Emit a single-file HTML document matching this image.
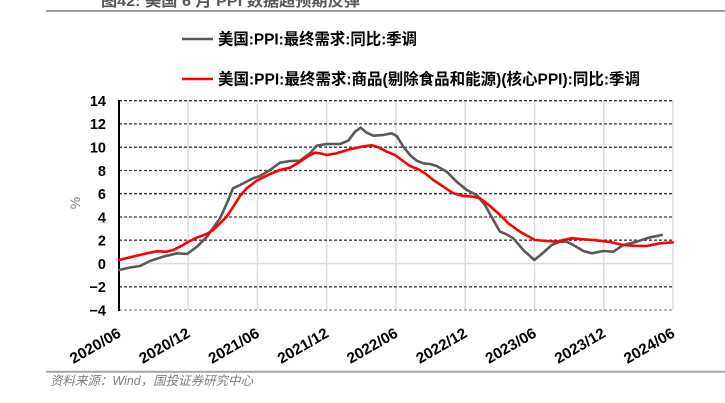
<!DOCTYPE html>
<html><head><meta charset="utf-8"><style>
html,body{margin:0;padding:0;background:#fff;width:725px;height:403px;overflow:hidden}
svg{display:block}
text{font-family:"Liberation Sans","Noto Sans CJK SC",sans-serif}
</style></head><body>
<svg width="725" height="403" viewBox="0 0 725 403" xmlns="http://www.w3.org/2000/svg">
<!-- title (cut off at top) -->
<text x="101" y="6" font-size="15" font-weight="bold" fill="#595959" textLength="259" lengthAdjust="spacingAndGlyphs">图42: 美国 6 月 PPI 数据超预期反弹</text>
<line x1="46" y1="11" x2="725" y2="11" stroke="#a0a0a0" stroke-width="2"/>

<!-- legend -->
<line x1="182" y1="39" x2="213" y2="39" stroke="#595959" stroke-width="2.5"/>
<text x="218" y="44.5" font-size="16" font-weight="bold" fill="#000" textLength="199" lengthAdjust="spacingAndGlyphs">美国:PPI:最终需求:同比:季调</text>
<line x1="182" y1="79" x2="213" y2="79" stroke="#ff0000" stroke-width="2.5"/>
<text x="218" y="84.5" font-size="16" font-weight="bold" fill="#000" textLength="422" lengthAdjust="spacingAndGlyphs">美国:PPI:最终需求:商品(剔除食品和能源)(核心PPI):同比:季调</text>

<!-- vertical gridlines -->
<g stroke="#dcdcdc" stroke-width="1.5">
<line x1="188.2" y1="100" x2="188.2" y2="310"/>
<line x1="257.5" y1="100" x2="257.5" y2="310"/>
<line x1="326.7" y1="100" x2="326.7" y2="310"/>
<line x1="396" y1="100" x2="396" y2="310"/>
<line x1="465.2" y1="100" x2="465.2" y2="310"/>
<line x1="534.5" y1="100" x2="534.5" y2="310"/>
<line x1="603.7" y1="100" x2="603.7" y2="310"/>
<line x1="673" y1="100" x2="673" y2="310"/>
</g>
<!-- horizontal gridlines -->
<g stroke="#3a3a3a" stroke-width="1.3" stroke-dasharray="3 2">
<line x1="119" y1="100.7" x2="673" y2="100.7"/>
<line x1="119" y1="123.9" x2="673" y2="123.9"/>
<line x1="119" y1="147.2" x2="673" y2="147.2"/>
<line x1="119" y1="170.5" x2="673" y2="170.5"/>
<line x1="119" y1="193.7" x2="673" y2="193.7"/>
<line x1="119" y1="217" x2="673" y2="217"/>
<line x1="119" y1="240.2" x2="673" y2="240.2"/>
<line x1="119" y1="286.8" x2="673" y2="286.8"/>
</g>
<line x1="119" y1="310" x2="673" y2="310" stroke="#8c8c8c" stroke-width="1.3" stroke-dasharray="3 2"/>
<line x1="119" y1="263.5" x2="673" y2="263.5" stroke="#dcdcdc" stroke-width="1.5"/>

<!-- y axis -->
<line x1="119" y1="100" x2="119" y2="311" stroke="#000" stroke-width="2"/>
<g font-size="14.5" font-weight="bold" fill="#000" text-anchor="end">
<text x="106" y="106">14</text>
<text x="106" y="129.2">12</text>
<text x="106" y="152.5">10</text>
<text x="106" y="175.8">8</text>
<text x="106" y="199">6</text>
<text x="106" y="222.3">4</text>
<text x="106" y="245.5">2</text>
<text x="106" y="268.8">0</text>
<text x="106" y="292.1">−2</text>
<text x="106" y="315.3">−4</text>
</g>
<text x="0" y="0" font-size="14" fill="#808080" text-anchor="middle" transform="translate(80,203) rotate(-90)">%</text>

<!-- x labels -->
<g font-size="15" font-weight="bold" fill="#000" text-anchor="end">
<text transform="translate(122,336) rotate(-30)" textLength="56" lengthAdjust="spacingAndGlyphs">2020/06</text>
<text transform="translate(191.2,336) rotate(-30)" textLength="56" lengthAdjust="spacingAndGlyphs">2020/12</text>
<text transform="translate(260.5,336) rotate(-30)" textLength="56" lengthAdjust="spacingAndGlyphs">2021/06</text>
<text transform="translate(329.7,336) rotate(-30)" textLength="56" lengthAdjust="spacingAndGlyphs">2021/12</text>
<text transform="translate(399,336) rotate(-30)" textLength="56" lengthAdjust="spacingAndGlyphs">2022/06</text>
<text transform="translate(468.2,336) rotate(-30)" textLength="56" lengthAdjust="spacingAndGlyphs">2022/12</text>
<text transform="translate(537.5,336) rotate(-30)" textLength="56" lengthAdjust="spacingAndGlyphs">2023/06</text>
<text transform="translate(606.7,336) rotate(-30)" textLength="56" lengthAdjust="spacingAndGlyphs">2023/12</text>
<text transform="translate(676,336) rotate(-30)" textLength="56" lengthAdjust="spacingAndGlyphs">2024/06</text>
</g>

<!-- series: gray -->
<polyline fill="none" stroke="#595959" stroke-width="2.6" stroke-linejoin="round" stroke-linecap="round" points="119,270 130,267.5 140,266 150,261 163,256.7 177,253.3 187,254 197,246.7 207,236.7 220,218.3 227,203 233,188.3 240,185 253,178.3 260,176 270,170 280,162.7 290,161 300,160.7 310,153.3 316.7,145.7 326.7,144 340,144 348.3,140.7 355,131.7 360.7,127.7 366.7,132.7 373.3,135.7 383.3,135 391.7,133.3 396.7,136 403.3,146.7 410,155 416.7,160.7 423.3,163.3 430,164 436.7,166 446.7,171.7 456.7,181.7 466.7,190 476.7,195 485,205 493.3,220 500,231.7 506.7,234.3 513.3,238.3 523.3,250 534.3,260 541.7,254 551.7,245 560,241.7 566.7,241.7 573.3,245 583.3,251 591.7,253.3 603.3,251 613.3,251.7 623.3,245 636.7,241.7 646.7,238.3 653.3,236.7 661.7,235"/>
<!-- series: red -->
<polyline fill="none" stroke="#ff0000" stroke-width="2.6" stroke-linejoin="round" stroke-linecap="round" points="119,260 130,257.3 140,255 150,252.7 156.7,251.3 166.7,251.7 173.3,250 180,246.7 186.7,242.7 196.7,237.7 206.7,234 213.3,230 220,223.3 226.7,216.7 233.3,206.7 240,196 246.7,188.3 256.7,180.7 270,174 280,170 290,167.7 300,161.7 308.3,156 315,152.7 320,153.3 326.7,155 336.7,153.3 350,149.3 361.7,146.7 371.7,145.3 378.3,147.3 386.7,151.7 395,155 401.7,160 410,166 418.3,169.3 425,173.3 433.3,180 443.3,186.7 453.3,193.3 463.3,196 473.3,196.7 480,198.3 490,206 500,215 508.3,223.3 520,231.7 535,240 546.7,241 556.7,241.7 563.3,240 571.7,238.3 583.3,239.3 596.7,240.3 610,242 623.3,245 636.7,246 646.7,246 660,243.3 672.7,242.3"/>

<!-- footer -->
<line x1="46" y1="371.7" x2="725" y2="371.7" stroke="#a6a6a6" stroke-width="2"/>
<text x="50" y="385" font-size="12.5" font-style="italic" fill="#7f7f7f" textLength="203" lengthAdjust="spacingAndGlyphs">资料来源：Wind，国投证券研究中心</text>
</svg>
</body></html>
